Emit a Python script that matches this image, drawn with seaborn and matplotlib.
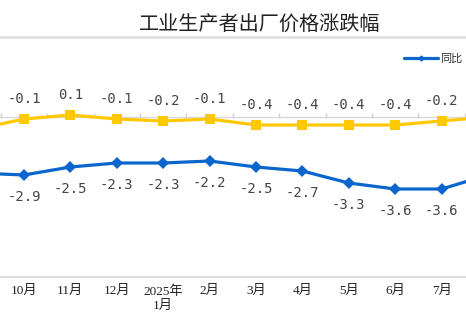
import matplotlib
matplotlib.use("Agg")
import matplotlib.pyplot as plt
import seaborn as sns
import numpy as np
from matplotlib.lines import Line2D

months = ["9月", "10月", "11月", "12月", "2025年\n1月", "2月", "3月", "4月", "5月", "6月", "7月", "8月"]
yoy = [-2.8, -2.9, -2.5, -2.3, -2.3, -2.2, -2.5, -2.7, -3.3, -3.6, -3.6, -2.9]
mom = [-0.6, -0.1, 0.1, -0.1, -0.2, -0.1, -0.4, -0.4, -0.4, -0.4, -0.2, 0.0]
title = "工业生产者出厂价格涨跌幅"
yoy_name = "同比"
mom_name = "环比"

sns.set_theme(style="white")
plt.rcParams["font.family"] = ["Noto Sans CJK SC", "DejaVu Sans"]

BLUE = "#0a66cc"
GOLD = "#ffc800"

fig = plt.figure(figsize=(4.66, 3.24), dpi=100)
ax = fig.add_axes([0, 47 / 324, 1, 240 / 324])

pos = np.arange(len(months))
xmin, xmax = 0.483, 10.526

# zero line with boundary ticks
ax.axhline(0, color="#d9d9d9", lw=1.0, zorder=1)
bounds = pos[:-1] + 0.5
ax.vlines(bounds, -0.05, 0.2, color="#d0d0d0", lw=1.0, zorder=1)

sns.lineplot(x=pos, y=mom, ax=ax, color=GOLD, lw=2.3, marker="s", markersize=7,
             markeredgewidth=0, zorder=3, label=mom_name, legend=False)
sns.lineplot(x=pos, y=yoy, ax=ax, color=BLUE, lw=2.3, marker="D", markersize=6,
             markeredgewidth=0, zorder=4, label=yoy_name, legend=False)

ax.set_xlim(xmin, xmax)
ax.set_ylim(-8, 4)

lab_font = dict(family=["DejaVu Sans Mono"], fontsize=10, color="#444444")
for x, v in zip(pos, yoy):
    if xmin < x < xmax:
        ax.annotate(f"{v:.1f}", (x, v), xytext=(0, -16), textcoords="offset points",
                    ha="center", va="center", **lab_font)
for x, v in zip(pos, mom):
    if xmin < x < xmax:
        ax.annotate(f"{v:.1f}", (x, v), xytext=(0, 14.5), textcoords="offset points",
                    ha="center", va="center", **lab_font)

vis = [i for i in pos if xmin < i < xmax]
ax.set_xticks(vis)
ax.set_xticklabels([months[i] for i in vis], family=["Liberation Serif", "Noto Sans CJK SC"],
                   fontsize=9.5, color="#222222", linespacing=1.25)
ax.tick_params(axis="x", length=0, pad=6)
ax.set_yticks([])
ax.set_xlabel("")
ax.set_ylabel("")
for s in ["left", "right"]:
    ax.spines[s].set_visible(False)
ax.spines["top"].set_color("#e2e2e2")
ax.spines["top"].set_linewidth(2)
ax.spines["bottom"].set_color("#dcdcdc")
ax.spines["bottom"].set_linewidth(1.5)

fig.text(260 / 466, 1 - 25 / 324, title, ha="center", va="center",
         fontsize=14.5, color="#222222")

handle = Line2D([], [], color=BLUE, lw=2.3, marker="D", markersize=2.5)
leg = fig.legend([handle], [yoy_name], loc="center right",
                 bbox_to_anchor=(462 / 466, 1 - 59 / 324), frameon=False,
                 fontsize=8, handlelength=3.0, handletextpad=0.2,
                 borderaxespad=0, borderpad=0)
for t in leg.get_texts():
    t.set_color("#333333")

fig.savefig("out.png", dpi=100)
